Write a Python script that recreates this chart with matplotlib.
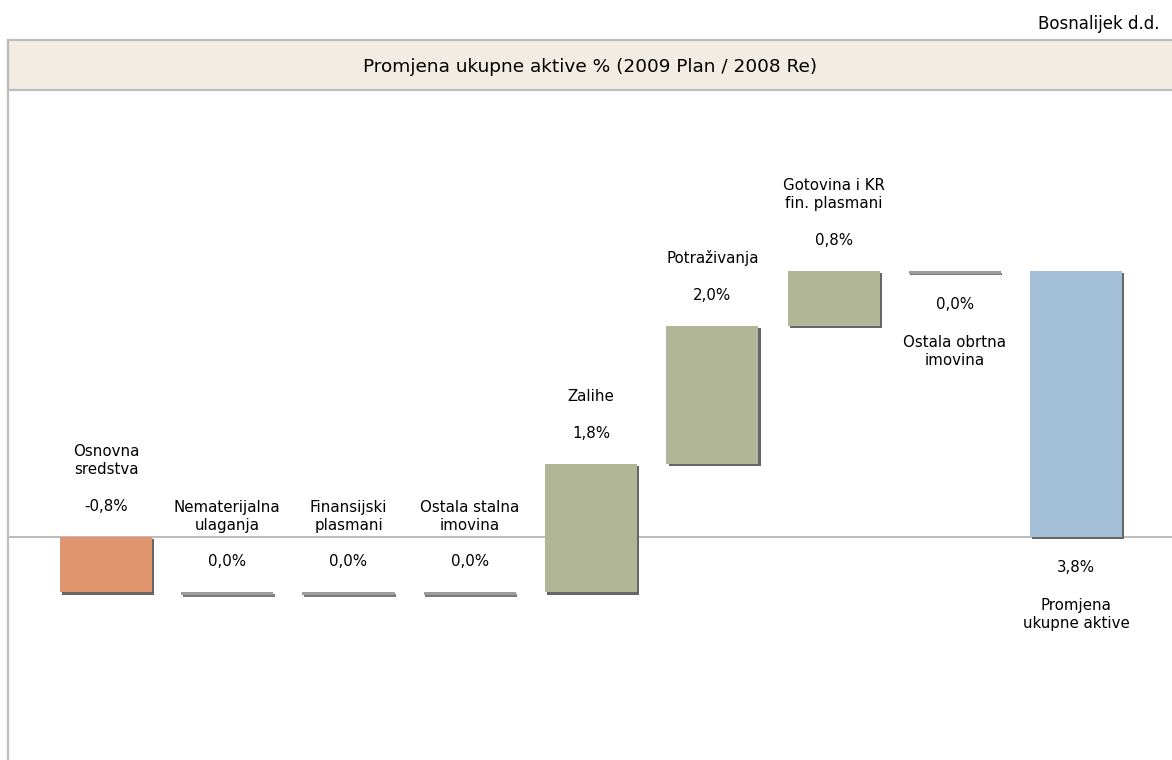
import matplotlib.pyplot as plt
import matplotlib.patheffects as pe
from matplotlib.patches import Rectangle
from matplotlib.lines import Line2D
import numpy as np

plt.rcParams['font.family'] = ['DejaVu Sans']

# data
categories = ['Osnovna\nsredstva', 'Nematerijalna\nulaganja', 'Finansijski\nplasmani',
              'Ostala stalna\nimovina', 'Zalihe', 'Potraživanja',
              'Gotovina i KR\nfin. plasmani', 'Ostala obrtna\nimovina']
changes = [-0.79, 0.0, 0.0, 0.0, 1.84, 1.97, 0.78, 0.0]
total_label = 'Promjena\nukupne aktive'
title = 'Promjena ukupne aktive % (2009 Plan / 2008 Re)'
company = 'Bosnalijek d.d.'

col_neg = '#e0956f'
col_pos = '#b1b696'
col_zero = '#9c9c9c'
col_total = '#a3bfd7'
shadow = [pe.SimplePatchShadow(offset=(1.6, -1.6), shadow_rgbFace='#666666', alpha=1.0), pe.Normal()]
shadow_zero = [pe.SimplePatchShadow(offset=(1.0, -1.0), shadow_rgbFace='#7a7a7a', alpha=1.0), pe.Normal()]

W, H = 1172, 760
fig = plt.figure(figsize=(W / 100, H / 100), dpi=100)
fig.patch.set_facecolor('white')

# header box
fig.patches.append(Rectangle((8 / W, 1 - 90 / H), 1.0, 50 / H, transform=fig.transFigure,
                             facecolor='#f3ece2', edgecolor='#bdbdbd', linewidth=1.6))
fig.lines.append(Line2D([8 / W, 8 / W], [0, 1 - 40 / H], transform=fig.transFigure,
                        color='#bdbdbd', linewidth=1.6))
fig.text(590 / W, 1 - 67 / H, title, ha='center', va='center', fontsize=13.3)
fig.text(1160 / W, 1 - 24 / H, company, ha='right', va='center', fontsize=12)

ax = fig.add_axes([8 / W, 0, (W - 8) / W, (H - 92) / H])
ax.axis('off')
ax.set_xlim(-0.808, 8.79)
ax.set_ylim(-3.186, 6.36)
ax.axhline(0, color='#b5b5b5', linewidth=1.3, zorder=1)

bw = 0.76
level = 0.0
names = categories + [total_label]
vals = changes + [sum(changes)]
for i, (name, v) in enumerate(zip(names, vals)):
    if i < len(changes):
        start, end = level, level + v
        level = end
    else:
        start, end = 0.0, v
    lo, hi = min(start, end), max(start, end)
    fx = shadow
    if v == 0:
        color = col_zero
        lo, hi = lo - 0.04, lo
        fx = shadow_zero
    elif i == len(changes):
        color = col_total
    else:
        color = col_pos if v > 0 else col_neg
    ax.bar(i, hi - lo, bw, bottom=lo, color=color, zorder=3, path_effects=fx)

    below = i >= len(changes) - 1
    txt = f'{v:.1f}%'.replace('.', ',')
    if below:
        ax.annotate(txt, (i, lo), xytext=(0, -22), textcoords='offset points',
                    ha='center', va='center', fontsize=10.8)
        ax.annotate(name, (i, lo), xytext=(0, -44), textcoords='offset points',
                    ha='center', va='top', fontsize=10.8, linespacing=1.25)
    else:
        ax.annotate(txt, (i, hi), xytext=(0, 22), textcoords='offset points',
                    ha='center', va='center', fontsize=10.8)
        ax.annotate(name, (i, hi), xytext=(0, 43), textcoords='offset points',
                    ha='center', va='bottom', fontsize=10.8, linespacing=1.25)

fig.savefig('out.png', dpi=100)
